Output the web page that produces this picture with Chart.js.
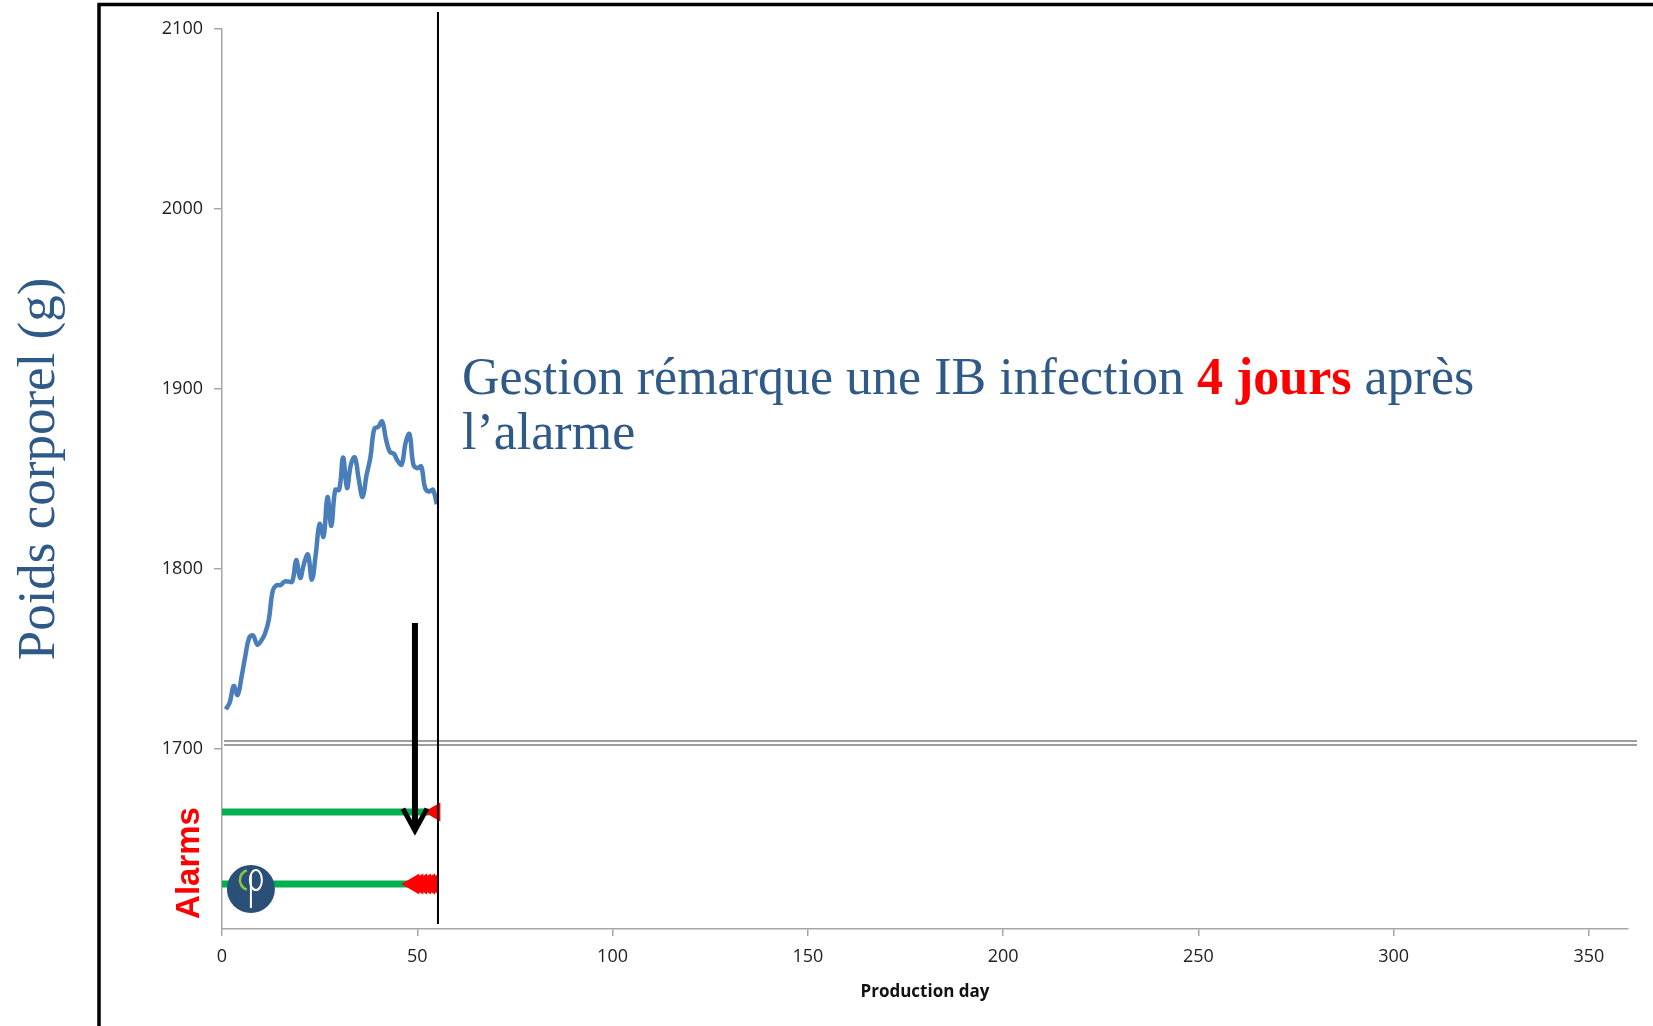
<!DOCTYPE html>
<html>
<head>
<meta charset="utf-8">
<script src="https://cdn.jsdelivr.net/npm/chart.js@4"></script>
<style>
  html, body { margin: 0; padding: 0; background: #fff; }
  canvas { display: block; }
</style>
</head>
<body>
<canvas id="mychart" width="1653" height="1026"></canvas>
<script>
// Données du graphique
const days = [1, 2, 3, 4, 5, 6, 7, 8, 9, 10, 11, 12, 13, 14, 15, 16, 17, 18, 19, 20,
  21, 22, 23, 24, 25, 26, 27, 28, 29, 30, 31, 32, 33, 34, 35, 36, 37, 38, 39, 40,
  41, 42, 43, 44, 45, 46, 47, 48, 49, 50, 51, 52, 53, 54, 55];
const weights = [1722, 1726, 1735, 1730, 1740, 1752, 1762, 1763, 1758, 1760,
  1764, 1772, 1788, 1791, 1791, 1793, 1793, 1793, 1805, 1795,
  1803, 1808, 1794, 1808, 1825, 1818, 1840, 1824, 1844, 1844,
  1862, 1845, 1858, 1862, 1850, 1840, 1852, 1862, 1878, 1879,
  1882, 1872, 1865, 1864, 1860, 1858, 1870, 1875, 1858, 1856,
  1857, 1845, 1843, 1844, 1836];

const xTicks = [0, 50, 100, 150, 200, 250, 300, 350];
const yTicks = [1700, 1800, 1900, 2000, 2100];

// lignes d'alarme
const alarmLevels = [1665, 1625];
const greenRanges = [[0, 53], [0, 48]];
const redDaysTop = [54.5];
const redDaysBottom = [49, 50, 51, 52, 53, 54];

// séparateur, ligne verticale, flèche, logo
const sepRange = [0.5, 362.3];
const sepLevels = [1704.4, 1702.2];
const stopDay = 55.3;
const stopRange = [1602.8, 2109.4];
const arrowDay = 49.4;
const arrowRange = [1770, 1653];
const logoPos = [7.4, 1622.2];

const axisGray = "#a6a6a6";
const textBlue = "#2f5a88";

const seg = (xs, yv) => xs.map((d) => ({ x: d, y: yv }));

const decor = {
  id: "decor",
  afterDatasetsDraw(chart) {
    const { ctx, scales: { x, y } } = chart;
    ctx.save();

    // flèche
    const ax = x.getPixelForValue(arrowDay);
    const a0 = y.getPixelForValue(arrowRange[0]);
    const a1 = y.getPixelForValue(arrowRange[1]);
    ctx.strokeStyle = "#000";
    ctx.lineWidth = 6;
    ctx.beginPath();
    ctx.moveTo(ax, a0);
    ctx.lineTo(ax, a1 - 4);
    ctx.stroke();
    ctx.lineWidth = 5;
    ctx.beginPath();
    ctx.moveTo(ax - 12, a1 - 25);
    ctx.lineTo(ax, a1 - 3);
    ctx.lineTo(ax + 12, a1 - 25);
    ctx.stroke();

    // logo
    const lx = x.getPixelForValue(logoPos[0]);
    const ly = y.getPixelForValue(logoPos[1]);
    ctx.fillStyle = "#2b5078";
    ctx.beginPath();
    ctx.arc(lx, ly, 24, 0, Math.PI * 2);
    ctx.fill();
    ctx.strokeStyle = "#8dc63f";
    ctx.lineWidth = 2.5;
    ctx.beginPath();
    ctx.arc(lx - 1, ly - 9, 10, Math.PI * 0.6, Math.PI * 1.4);
    ctx.stroke();
    ctx.strokeStyle = "#fff";
    ctx.lineWidth = 2;
    ctx.beginPath();
    ctx.moveTo(lx, ly - 14);
    ctx.lineTo(lx, ly + 19);
    ctx.stroke();
    ctx.beginPath();
    ctx.ellipse(lx + 5, ly - 9, 6, 10, 0, 0, Math.PI * 2);
    ctx.stroke();
    ctx.restore();
  },
  afterDraw(chart) {
    const { ctx } = chart;
    ctx.save();

    // cadre
    ctx.strokeStyle = "#000";
    ctx.lineWidth = 3.5;
    ctx.strokeRect(99, 4.5, 1700, 1100);

    // titre axe y
    ctx.fillStyle = textBlue;
    ctx.font = "53px 'Liberation Serif'";
    ctx.textAlign = "center";
    ctx.textBaseline = "middle";
    ctx.save();
    ctx.translate(40, 469);
    ctx.rotate(-Math.PI / 2);
    ctx.fillText("Poids corporel (g)", 0, 0);
    ctx.restore();

    // Alarms
    ctx.save();
    ctx.fillStyle = "#ff0000";
    ctx.font = "bold 33px 'Liberation Sans'";
    ctx.translate(190, 863);
    ctx.rotate(-Math.PI / 2);
    ctx.fillText("Alarms", 0, 0);
    ctx.restore();

    // annotation
    ctx.textAlign = "left";
    ctx.textBaseline = "alphabetic";
    const normal = "52px 'Liberation Serif'";
    const bold = "bold 52px 'Liberation Serif'";
    let tx = 462;
    const parts = [
      ["Gestion rémarque une IB infection ", normal, textBlue],
      ["4 jours", bold, "#ff0000"],
      [" après", normal, textBlue],
    ];
    parts.forEach(([t, f, c]) => {
      ctx.font = f;
      ctx.fillStyle = c;
      ctx.fillText(t, tx, 394);
      tx += ctx.measureText(t).width;
    });
    ctx.font = normal;
    ctx.fillStyle = textBlue;
    ctx.fillText("l’alarme", 462, 449);
    ctx.restore();
  },
};

const ctx = document.getElementById("mychart");

const data = {
  datasets: [
    {
      label: "stop",
      data: stopRange.map((v) => ({ x: stopDay, y: v })),
      borderColor: "#000",
      borderWidth: 2,
      pointRadius: 0,
      clip: false,
    },
    {
      label: "alarme rouge 1",
      data: seg(redDaysTop, alarmLevels[0]),
      showLine: false,
      pointStyle: "triangle",
      rotation: -90,
      pointRadius: 11,
      backgroundColor: "#ff0000",
      borderColor: "#ff0000",
      borderWidth: 0,
    },
    {
      label: "alarme rouge 2",
      data: seg(redDaysBottom, alarmLevels[1]),
      showLine: false,
      pointStyle: "triangle",
      rotation: -90,
      pointRadius: 12,
      backgroundColor: "#ff0000",
      borderColor: "#ff0000",
      borderWidth: 0,
    },
    {
      label: "alarme verte 1",
      data: seg(greenRanges[0], alarmLevels[0]),
      borderColor: "#00b050",
      borderWidth: 7,
      pointRadius: 0,
    },
    {
      label: "alarme verte 2",
      data: seg(greenRanges[1], alarmLevels[1]),
      borderColor: "#00b050",
      borderWidth: 7,
      pointRadius: 0,
    },
    {
      label: "Poids corporel",
      data: days.map((d, i) => ({ x: d, y: weights[i] })),
      borderColor: "#4a7ebb",
      borderWidth: 4.5,
      pointRadius: 0,
      tension: 0.4,
    },
    {
      label: "sep a",
      data: seg(sepRange, sepLevels[0]),
      borderColor: "#7f7f7f",
      borderWidth: 1.5,
      pointRadius: 0,
      clip: false,
    },
    {
      label: "sep b",
      data: seg(sepRange, sepLevels[1]),
      borderColor: "#7f7f7f",
      borderWidth: 1.5,
      pointRadius: 0,
      clip: false,
    },
  ],
};

const config = {
  type: "line",
  data: data,
  plugins: [decor],
  options: {
    responsive: false,
    animation: false,
    layout: { padding: { left: 0, top: 29, right: 25, bottom: 0 } },
    plugins: { legend: { display: false }, tooltip: { enabled: false } },
    scales: {
      x: {
        type: "linear",
        min: 0,
        max: 360,
        afterBuildTicks: (s) => { s.ticks = xTicks.map((v) => ({ value: v })); },
        afterFit: (s) => { s.height = 97; },
        grid: { drawOnChartArea: false, tickLength: 7, color: axisGray, lineWidth: 1.5 },
        border: { color: axisGray, width: 1.5 },
        ticks: {
          padding: 10,
          color: "#222",
          maxRotation: 0,
          font: { family: "Open Sans", size: 18 },
          callback: (v) => String(v),
        },
        title: {
          display: true,
          text: "Production day",
          color: "#111",
          font: { family: "Open Sans", size: 17, weight: "bold" },
          padding: { top: 0, bottom: 24 },
        },
      },
      y: {
        min: 1600,
        max: 2100,
        afterBuildTicks: (s) => { s.ticks = yTicks.map((v) => ({ value: v })); },
        afterFit: (s) => { s.width = 222; },
        grid: { drawOnChartArea: false, tickLength: 8, color: axisGray, lineWidth: 1.5 },
        border: { color: axisGray, width: 1.5 },
        ticks: {
          padding: 11,
          color: "#222",
          font: { family: "Open Sans", size: 18 },
          callback: (v) => String(v),
        },
      },
    },
  },
};

new Chart(ctx, config);
</script>
</body>
</html>
